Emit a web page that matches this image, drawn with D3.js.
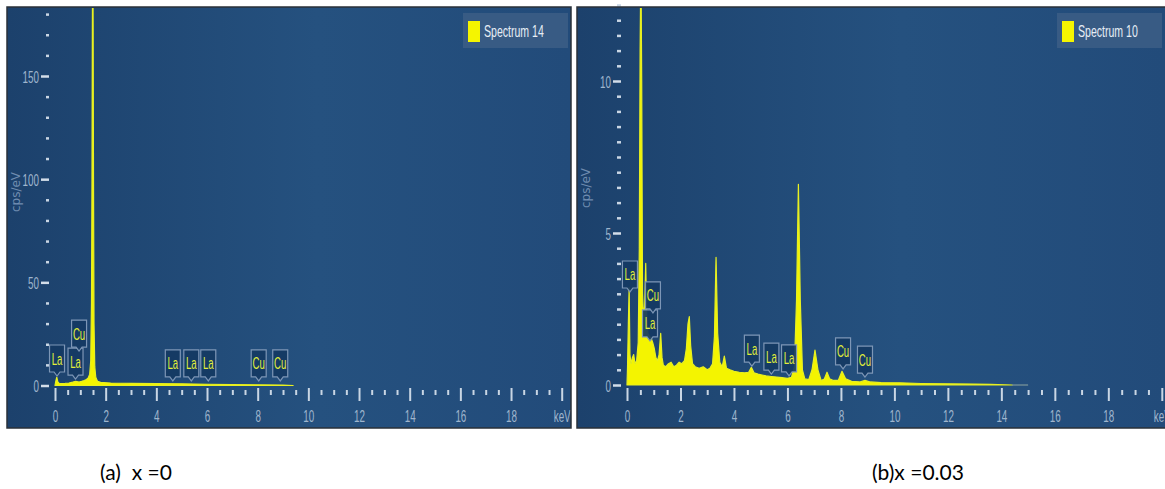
<!DOCTYPE html>
<html>
<head>
<meta charset="utf-8">
<script src="https://cdn.jsdelivr.net/npm/d3@7"></script>
<style>
  html, body { margin: 0; padding: 0; background: #ffffff; }
  svg { display: block; }
</style>
</head>
<body>
<svg id="chart" width="1165" height="489"></svg>
<script>
// ---- EDS spectrum (a): x = 0 ----
const energyA = [0, 0.03, 0.07, 0.11, 0.16, 0.25, 0.4, 0.55, 0.7, 0.82,
                 0.95, 1.05, 1.15, 1.24, 1.31, 1.37, 1.41, 1.44, 1.46, 1.475,
                 1.49, 1.505, 1.52, 1.54, 1.57, 1.61, 1.68, 1.8, 2.2, 3.0,
                 4.0, 5.0, 6.0, 7.0, 8.0, 9.0, 9.4];
const countsA = [0, 2.0, 4.0, 1.8, 1.1, 0.9, 1.0, 1.2, 1.6, 2.0,
                 1.7, 2.0, 2.4, 2.9, 3.6, 5.5, 12, 40, 100, 175,
                 215, 175, 100, 30, 9, 4, 2, 1.5, 1.2, 1.0,
                 0.9, 0.8, 0.6, 0.45, 0.35, 0.25, 0];

// ---- EDS spectrum (b): x = 0.03 ----
const energyB = [0, 0.02, 0.05, 0.08, 0.11, 0.15, 0.2, 0.25, 0.3, 0.36,
                 0.42, 0.46, 0.49, 0.52, 0.55, 0.58, 0.62, 0.66, 0.7, 0.74,
                 0.78, 0.84, 0.9, 0.96, 1.02, 1.08, 1.14, 1.2, 1.26, 1.31,
                 1.36, 1.45, 1.55, 1.65, 1.75, 1.85, 1.95, 2.05, 2.15, 2.22,
                 2.28, 2.33, 2.38, 2.45, 2.55, 2.7, 2.85, 3.0, 3.1, 3.2,
                 3.27, 3.33, 3.39, 3.47, 3.56, 3.64, 3.72, 3.85, 4.0, 4.2,
                 4.4, 4.55, 4.65, 4.75, 4.9, 5.05, 5.2, 5.4, 5.6, 5.8,
                 6.0, 6.15, 6.26, 6.34, 6.41, 6.48, 6.56, 6.65, 6.8, 6.92,
                 7.03, 7.14, 7.26, 7.38, 7.48, 7.58, 7.72, 7.9, 8.04, 8.18,
                 8.4, 8.7, 8.9, 9.1, 9.5, 10.2, 11, 12, 13, 13.6,
                 14.4];
const countsB = [0, 0.6, 2.0, 3.2, 1.0, 0.7, 0.9, 1.0, 0.7, 0.8,
                 1.4, 4.5, 11, 14, 10, 3.0, 2.2, 2.6, 4.0, 2.2,
                 1.7, 1.6, 1.55, 1.4, 1.2, 0.9, 0.8, 1.0, 1.7, 0.9,
                 0.65, 0.6, 0.7, 0.75, 0.6, 0.65, 0.75, 0.7, 0.8, 1.2,
                 2.0, 2.25, 1.3, 0.7, 0.6, 0.55, 0.6, 0.5, 0.55, 0.7,
                 1.6, 4.2, 1.7, 0.75, 0.6, 0.95, 0.55, 0.5, 0.45, 0.42,
                 0.4, 0.42, 0.58, 0.4, 0.36, 0.33, 0.3, 0.28, 0.26, 0.24,
                 0.22, 0.25, 0.6, 2.8, 6.6, 2.8, 0.5, 0.2, 0.18, 0.5,
                 1.15, 0.5, 0.15, 0.2, 0.42, 0.2, 0.15, 0.15, 0.45, 0.2,
                 0.12, 0.1, 0.15, 0.1, 0.08, 0.07, 0.05, 0.04, 0.03, 0.02,
                 0];

// ---- element markers: name, energy (keV), marker tip height (cps/eV) ----
const peakNamesA  = ["La", "La", "Cu", "La", "La", "La", "Cu", "Cu"];
const peakEnergyA = [0.08, 0.81, 0.95, 4.65, 5.38, 6.05, 8.04, 8.89];
const peakTipA    = [4.6, 3.1, 16.7, 2.2, 2.2, 2.2, 2.2, 2.2];

const peakNamesB  = ["La", "La", "Cu", "La", "La", "La", "Cu", "Cu"];
const peakEnergyB = [0.11, 0.86, 0.97, 4.67, 5.4, 6.06, 8.08, 8.9];
const peakTipB    = [3.06, 1.45, 2.37, 0.62, 0.36, 0.30, 0.53, 0.26];

// ---- axes ----
const xTickValues = [0, 2, 4, 6, 8, 10, 12, 14, 16, 18, 20];
const xTickLabels = ["0", "2", "4", "6", "8", "10", "12", "14", "16", "18", "keV"];
const yTicksA = [0, 50, 100, 150];
const yTicksB = [0, 5, 10];

const legendNames = ["Spectrum 14", "Spectrum 10"];
const captions = ["(a)  x =0", "(b)x =0.03"];

const svg = d3.select("#chart");
const defs = svg.append("defs");

const grad = defs.append("linearGradient").attr("id", "panelBg")
  .attr("x1", "0").attr("y1", "0").attr("x2", "1").attr("y2", "0");
grad.append("stop").attr("offset", "0%").attr("stop-color", "#1c416c");
grad.append("stop").attr("offset", "55%").attr("stop-color", "#25517f");
grad.append("stop").attr("offset", "100%").attr("stop-color", "#224b7a");

const condensed = "'Liberation Sans', Arial, sans-serif";

function drawPanel(cfg, idx) {
  const { left, top, right, bottom } = cfg.frame;
  const g = svg.append("g");

  g.append("rect")
    .attr("x", left).attr("y", top)
    .attr("width", right - left).attr("height", bottom - top)
    .attr("fill", "url(#panelBg)");

  const clipId = "clip" + idx;
  defs.append("clipPath").attr("id", clipId)
    .append("rect")
    .attr("x", left).attr("y", top + 1)
    .attr("width", right - left).attr("height", bottom - top - 1);

  const x = d3.scaleLinear().domain([0, 20]).range(cfg.xRange);
  const y = d3.scaleLinear().domain(cfg.yDomain).range(cfg.yRange);

  const pts = cfg.energy.map((e, i) => [e, cfg.counts[i]]);

  const plot = g.append("g").attr("clip-path", `url(#${clipId})`);

  // spectrum fill
  plot.append("path")
    .datum(pts)
    .attr("fill", "#f4f400")
    .attr("stroke", "#e8f020")
    .attr("stroke-width", 1.2)
    .attr("stroke-linejoin", "round")
    .attr("d", d3.area()
      .x(d => x(d[0]))
      .y0(y(0))
      .y1(d => y(d[1])));

  // faint continuation of the baseline past the measured range
  if (cfg.tailKeV > 0) {
    const lastE = cfg.energy[cfg.energy.length - 1];
    plot.append("line")
      .attr("x1", x(lastE)).attr("x2", x(lastE + cfg.tailKeV))
      .attr("y1", y(0)).attr("y2", y(0))
      .attr("stroke", "#8fa6a0").attr("stroke-width", 1);
  }

  // x axis: minor then major ticks
  const axisY = cfg.axisY;
  const minorX = d3.range(0, 20.01, 0.5).filter(v => v % 2 !== 0);
  g.append("g")
    .attr("transform", `translate(0,${axisY + 2})`)
    .call(d3.axisBottom(x).tickValues(minorX).tickSize(5).tickFormat(""))
    .call(a => a.select(".domain").remove())
    .call(a => a.selectAll("line").attr("stroke", "#c9d6e4").attr("stroke-width", 2));

  const xAxis = g.append("g")
    .attr("transform", `translate(0,${axisY})`)
    .call(d3.axisBottom(x).tickValues(xTickValues).tickSize(13)
      .tickFormat((d, i) => xTickLabels[i]));
  xAxis.select(".domain").remove();
  xAxis.selectAll("line").attr("stroke", "#c9d6e4").attr("stroke-width", 2);
  xAxis.selectAll("text")
    .attr("y", 0).attr("dy", 0)
    .attr("transform", "translate(0,34) scale(0.58,1)")
    .attr("fill", "#9fb5cd")
    .style("font-family", condensed)
    .style("font-size", "17px");

  // y axis: minor then major ticks
  g.append("g")
    .attr("transform", `translate(${cfg.yAxisX},0)`)
    .call(d3.axisLeft(y).tickValues(cfg.yMinor).tickSize(cfg.minorLen).tickFormat(""))
    .call(a => a.select(".domain").remove())
    .call(a => a.selectAll("line").attr("stroke", "#c9d6e4").attr("stroke-width", 2.5));

  const yAxis = g.append("g")
    .attr("transform", `translate(${cfg.yAxisX},0)`)
    .call(d3.axisLeft(y).tickValues(cfg.yTicks).tickSize(8));
  yAxis.select(".domain").remove();
  yAxis.selectAll("line").attr("stroke", "#d3dde9").attr("stroke-width", 2.5);
  yAxis.selectAll("text")
    .attr("x", 0).attr("dy", 0)
    .attr("transform", "translate(-10,6) scale(0.58,1)")
    .attr("text-anchor", "end")
    .attr("fill", "#9fb5cd")
    .style("font-family", condensed)
    .style("font-size", "17px");

  // y-axis title
  g.append("text")
    .attr("transform", `translate(${cfg.titleX},${cfg.titleY}) rotate(-90)`)
    .attr("text-anchor", "middle")
    .attr("fill", "#6f8cb0")
    .style("font-family", "'DejaVu Sans', sans-serif")
    .style("font-size", "12px")
    .text("cps/eV");

  // element markers
  const bw = 15, bh = 27, ph = 4;
  const markers = g.append("g");
  cfg.peakNames.forEach((name, i) => {
    const mx = x(cfg.peakEnergy[i]);
    const my = y(cfg.peakTip[i]);
    const m = markers.append("g").attr("transform", `translate(${mx},${my})`);
    m.append("path")
      .attr("d", `M0,0 L-3,${-ph} L${-bw / 2},${-ph} L${-bw / 2},${-ph - bh} ` +
                 `L${bw / 2},${-ph - bh} L${bw / 2},${-ph} L3,${-ph} Z`)
      .attr("fill", "#153a63")
      .attr("fill-opacity", 0.92)
      .attr("stroke", "#7d96b6")
      .attr("stroke-width", 1.2);
    m.append("text")
      .attr("transform", `translate(0,${-ph - bh / 2 + 6}) scale(0.6,1)`)
      .attr("text-anchor", "middle")
      .attr("fill", "#e2f03a")
      .style("font-family", condensed)
      .style("font-size", "16px")
      .text(name);
  });

  // legend
  const lg = g.append("g").attr("transform", `translate(${cfg.legendX},13)`);
  lg.append("rect")
    .attr("width", 105).attr("height", 35)
    .attr("fill", "#3b5d85").attr("fill-opacity", 0.9);
  lg.append("rect")
    .attr("x", 5).attr("y", 8).attr("width", 12).attr("height", 21)
    .attr("fill", "#f5f500");
  lg.append("text")
    .attr("transform", "translate(21,24) scale(0.64,1)")
    .attr("fill", "#e6edf5")
    .style("font-family", condensed)
    .style("font-size", "16.5px")
    .text(cfg.legend);

  // frame
  g.append("rect")
    .attr("x", left).attr("y", top)
    .attr("width", right - left).attr("height", bottom - top)
    .attr("fill", "none")
    .attr("stroke", "#2a3139").attr("stroke-width", 1.5);

  // caption
  svg.append("text")
    .attr("x", cfg.captionX).attr("y", 480)
    .attr("fill", "#000")
    .style("font-family", "Lato, 'Open Sans', sans-serif")
    .style("font-size", "21px")
    .attr("xml:space", "preserve")
    .style("white-space", "pre")
    .text(cfg.caption);
}

drawPanel({
  frame: { left: 7, top: 7, right: 571, bottom: 428 },
  xRange: [55, 561.7],
  yDomain: [0, 150], yRange: [385.5, 76],
  energy: energyA, counts: countsA, tailKeV: 0,
  peakNames: peakNamesA, peakEnergy: peakEnergyA, peakTip: peakTipA,
  axisY: 388,
  yAxisX: 49, yTicks: yTicksA, yMinor: d3.range(0, 181, 10).filter(v => v % 50 !== 0), minorLen: 3,
  titleX: 20, titleY: 192,
  legendX: 463, legend: legendNames[0],
  captionX: 100, caption: captions[0]
}, 0);

drawPanel({
  frame: { left: 577, top: 7, right: 1166, bottom: 428 },
  xRange: [627, 1161.8],
  yDomain: [0, 10], yRange: [385, 81],
  energy: energyB, counts: countsB, tailKeV: 0.6,
  peakNames: peakNamesB, peakEnergy: peakEnergyB, peakTip: peakTipB,
  axisY: 388,
  yAxisX: 621, yTicks: yTicksB, yMinor: d3.range(0, 12.51, 0.5).filter(v => v % 5 !== 0), minorLen: 4,
  titleX: 590, titleY: 188,
  legendX: 1057, legend: legendNames[1],
  captionX: 872, caption: captions[1]
}, 1);
</script>
</body>
</html>
